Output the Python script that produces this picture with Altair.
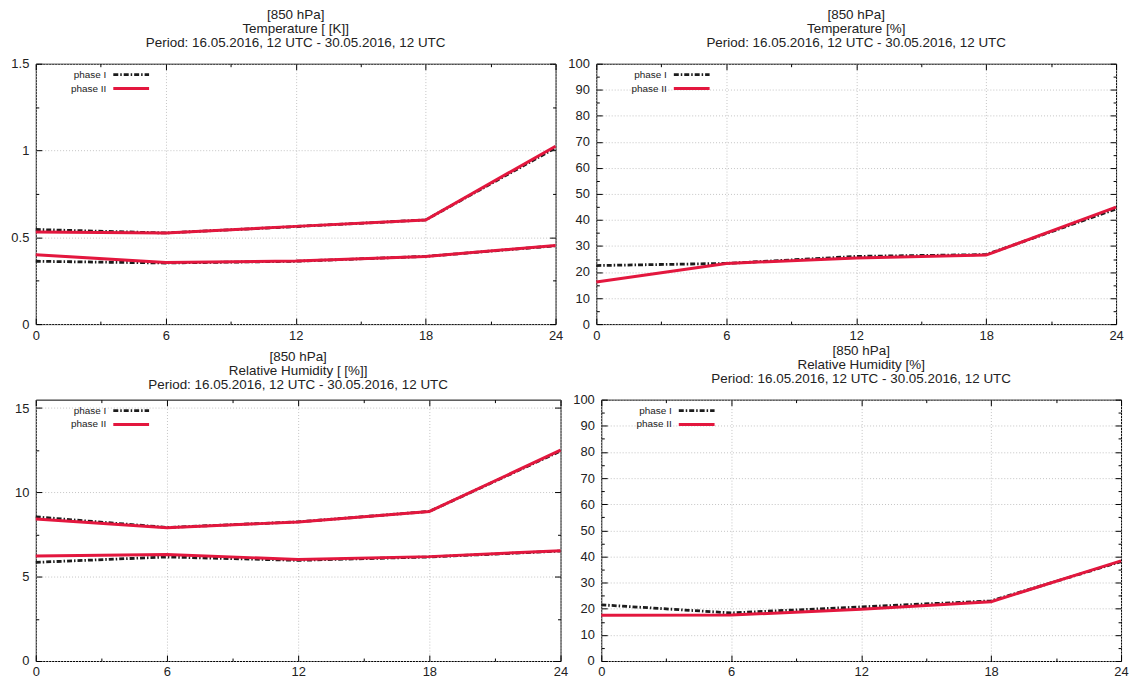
import altair as alt
import pandas as pd

# Forecast lead time (hours)
HOURS = [0, 6, 12, 18, 24]
X_MAJOR = [0, 6, 12, 18, 24]
X_ALL = [0, 3, 6, 9, 12, 15, 18, 21, 24]
PHASES = ["phase I", "phase II"]

LEVEL = "[850 hPa]"
PERIOD = "Period: 16.05.2016, 12 UTC - 30.05.2016, 12 UTC"

# Temperature [K]: upper and lower score curves
temp_k_upper_p1 = [0.545, 0.525, 0.562, 0.600, 1.015]
temp_k_upper_p2 = [0.530, 0.525, 0.563, 0.600, 1.025]
temp_k_lower_p1 = [0.362, 0.352, 0.362, 0.390, 0.451]
temp_k_lower_p2 = [0.400, 0.355, 0.363, 0.390, 0.453]

# Temperature [%]
temp_pct_p1 = [22.5, 23.3, 26.0, 26.7, 44.2]
temp_pct_p2 = [16.2, 23.3, 25.4, 26.5, 44.9]

# Relative humidity [%]: upper and lower score curves
rh_upper_p1 = [8.55, 7.92, 8.25, 8.87, 12.45]
rh_upper_p2 = [8.42, 7.90, 8.25, 8.87, 12.50]
rh_lower_p1 = [5.85, 6.17, 5.97, 6.17, 6.52]
rh_lower_p2 = [6.23, 6.32, 6.02, 6.19, 6.54]

# Relative humidity, percentage score
rh_pct_p1 = [21.5, 18.4, 20.7, 23.0, 38.0]
rh_pct_p2 = [17.5, 17.6, 19.8, 22.7, 38.3]

FONT = "Liberation Sans"
RED = "#e3173e"
BLACK = "#1c1c1c"
TEXT = "#222222"


def frame(series):
    rows = []
    for phase, stat, vals in series:
        for h, v in zip(HOURS, vals):
            rows.append({"hour": h, "value": v, "phase": phase, "stat": stat})
    return pd.DataFrame(rows)


def tick_size(test):
    return {"condition": {"test": test, "value": 6}, "value": 3}


def panel(name, series, ydomain, ymajor, yall, ytest, width, height, yextent):
    df = frame(series)
    xs = alt.Scale(domain=[0, 24], nice=False, zero=False)
    ys = alt.Scale(domain=ydomain, nice=False, zero=False)

    label_kw = dict(labelFont=FONT, labelFontSize=13, labelColor=TEXT,
                    labelOverlap=False, labelFlush=False, format="~f")
    x_main = alt.Axis(values=X_MAJOR, title=None, grid=True, ticks=False,
                      domain=False, labelPadding=5, gridColor="#c4c4c4",
                      gridDash=[1, 2], gridWidth=1, **label_kw)
    y_main = alt.Axis(values=ymajor, title=None, grid=True, ticks=False,
                      domain=False, labelPadding=7, gridColor="#c4c4c4",
                      gridDash=[1, 2], gridWidth=1, minExtent=yextent,
                      maxExtent=yextent, **label_kw)

    def tick_axis(orient, offset, values, test):
        return alt.Axis(orient=orient, offset=offset, values=values,
                        labels=False, grid=False, domain=False, title=None,
                        tickSize=tick_size(test), tickColor="#000000",
                        tickWidth=1)

    base = alt.Chart(df)

    phase1 = base.transform_filter(alt.datum.phase == PHASES[0]).mark_line(
        color=BLACK, strokeWidth=2.8, strokeDash=[5, 2, 1.5, 2]
    ).encode(
        x=alt.X("hour:Q", scale=xs, axis=x_main),
        y=alt.Y("value:Q", scale=ys, axis=y_main),
        detail="stat:N",
    )
    phase2 = base.transform_filter(alt.datum.phase == PHASES[1]).mark_line(
        color=RED, strokeWidth=3
    ).encode(
        x=alt.X("hour:Q", scale=xs, axis=None),
        y=alt.Y("value:Q", scale=ys, axis=None),
        detail="stat:N",
    )

    xtest = "datum.value % 6 === 0"
    # inward ticks on the bottom and left edges
    ticks_a = base.mark_point(opacity=0).encode(
        x=alt.X("hour:Q", scale=xs,
                axis=tick_axis("top", -height, X_ALL, xtest)),
        y=alt.Y("value:Q", scale=ys,
                axis=tick_axis("right", -width, yall, ytest)),
    )
    # inward ticks on the top and right edges
    ticks_b = base.mark_point(opacity=0).encode(
        x=alt.X("hour:Q", scale=xs,
                axis=tick_axis("bottom", -height, X_ALL, xtest)),
        y=alt.Y("value:Q", scale=ys,
                axis=tick_axis("left", -width, yall, ytest)),
    )

    legend_layers = []
    for i, ph in enumerate(PHASES):
        leg = pd.DataFrame({"phase": [ph]})
        ypos = 11 + 14 * i
        legend_layers.append(
            alt.Chart(leg).mark_text(
                align="right", baseline="middle", font=FONT, fontSize=10,
                color=TEXT
            ).encode(x=alt.value(71), y=alt.value(ypos), text="phase:N")
        )
        if i == 0:
            sample = alt.Chart(leg).mark_rule(
                color=BLACK, strokeWidth=2.8, strokeDash=[5, 2, 1.5, 2])
        else:
            sample = alt.Chart(leg).mark_rule(color=RED, strokeWidth=3)
        legend_layers.append(
            sample.encode(x=alt.value(78), x2=alt.value(114),
                          y=alt.value(ypos))
        )

    return alt.layer(phase1, phase2, ticks_a, ticks_b, *legend_layers).resolve_axis(
        x="independent", y="independent"
    ).properties(
        width=width,
        height=height,
        title=alt.TitleParams(
            [LEVEL, name, PERIOD], font=FONT, fontSize=13.5, fontWeight="normal",
            lineHeight=14, offset=8, color=TEXT, anchor="middle",
        ),
    )


p_temp_k = panel(
    "Temperature [ [K]]",
    [(PHASES[0], "upper", temp_k_upper_p1), (PHASES[0], "lower", temp_k_lower_p1),
     (PHASES[1], "upper", temp_k_upper_p2), (PHASES[1], "lower", temp_k_lower_p2)],
    [0, 1.5], [0, 0.5, 1, 1.5], [0, 0.25, 0.5, 0.75, 1, 1.25, 1.5],
    "datum.value % 0.5 === 0", 523, 262, 30,
)
p_temp_pct = panel(
    "Temperature [%]",
    [(PHASES[0], "score", temp_pct_p1), (PHASES[1], "score", temp_pct_p2)],
    [0, 100], list(range(0, 101, 10)), list(range(0, 101, 5)),
    "datum.value % 10 === 0", 523, 262, 29,
)
p_rh = panel(
    "Relative Humidity [ [%]]",
    [(PHASES[0], "upper", rh_upper_p1), (PHASES[0], "lower", rh_lower_p1),
     (PHASES[1], "upper", rh_upper_p2), (PHASES[1], "lower", rh_lower_p2)],
    [0, 15.5], [0, 5, 10, 15], [0, 2.5, 5, 7.5, 10, 12.5, 15],
    "datum.value % 5 === 0", 528, 263, 25,
)
p_rh_pct = panel(
    "Relative Humidity [%]",
    [(PHASES[0], "score", rh_pct_p1), (PHASES[1], "score", rh_pct_p2)],
    [0, 100], list(range(0, 101, 10)), list(range(0, 101, 5)),
    "datum.value % 10 === 0", 523, 263, 29,
)

chart = alt.vconcat(
    alt.hconcat(p_temp_k, p_temp_pct, spacing=3),
    alt.hconcat(p_rh, p_rh_pct, spacing=3),
    spacing=1,
).properties(
    padding={"left": 5, "top": 6, "right": 0, "bottom": 0},
    background="white",
).configure_view(
    stroke="#000000", strokeWidth=1
)

chart.save("out.html", embed_options={"renderer": "svg", "actions": False})
